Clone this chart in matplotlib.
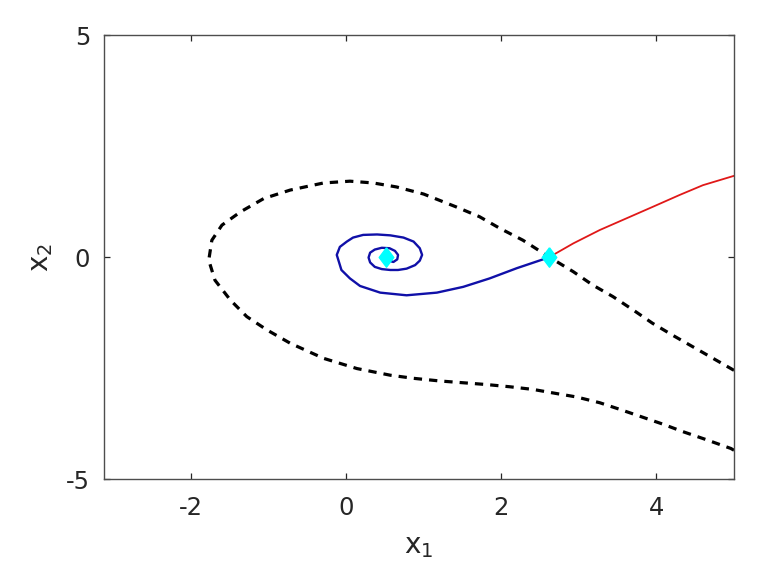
"""
Phase portrait: stable manifold of the saddle (dashed), its two unstable
branches (red / blue) and the equilibria (cyan diamonds).
"""

import matplotlib
matplotlib.use("Agg")
import matplotlib.pyplot as plt


# Stable manifold of the saddle (along the path)
stableX = [5.00, 4.73, 4.47, 4.21, 3.95, 3.70, 3.44, 3.18, 2.93, 2.62,
           2.28, 1.98, 1.72, 1.42, 1.00, 0.65, 0.35, 0.05, -0.29, -0.72,
           -1.06, -1.36, -1.60, -1.73, -1.77, -1.69, -1.49, -1.28, -1.02,
           -0.72, -0.29, 0.14, 0.57, 0.87, 1.21, 1.51, 1.81, 2.11, 2.41,
           2.67, 2.97, 3.27, 3.53, 3.78, 4.08, 4.34, 4.64, 4.96, 5.00]
stableY = [-2.55, -2.28, -2.02, -1.76, -1.49, -1.19, -0.89, -0.63, -0.33,
           0.00, 0.38, 0.65, 0.91, 1.13, 1.42, 1.58, 1.67, 1.71, 1.67, 1.51,
           1.32, 1.02, 0.72, 0.38, -0.07, -0.52, -0.97, -1.34, -1.64, -1.94,
           -2.28, -2.51, -2.66, -2.73, -2.79, -2.83, -2.87, -2.92, -2.98,
           -3.06, -3.15, -3.28, -3.43, -3.58, -3.76, -3.93, -4.11, -4.31,
           -4.35]

# Unstable branch going right
redX = [2.62, 2.93, 3.27, 3.61, 3.95, 4.30, 4.60, 4.98, 5.00]
redY = [0.00, 0.31, 0.61, 0.87, 1.13, 1.40, 1.62, 1.82, 1.83]

# Unstable branch spiralling into the focus
blueX = [2.62, 2.54, 2.20, 1.85, 1.51, 1.17, 0.78, 0.44, 0.18, 0.05,
         -0.06, -0.12, -0.08, 0.01, 0.09, 0.22, 0.40, 0.57, 0.74, 0.87,
         0.95, 0.98, 0.95, 0.89, 0.78, 0.67, 0.57, 0.46, 0.37, 0.31,
         0.29, 0.31, 0.37, 0.46, 0.56, 0.63, 0.67, 0.66, 0.61, 0.55,
         0.52]
blueY = [0.00, -0.05, -0.25, -0.48, -0.67, -0.80, -0.86, -0.80, -0.65,
         -0.48, -0.29, 0.05, 0.23, 0.35, 0.44, 0.50, 0.51, 0.49, 0.44,
         0.35, 0.20, 0.05, -0.08, -0.18, -0.26, -0.29, -0.29, -0.27,
         -0.22, -0.12, -0.01, 0.10, 0.17, 0.21, 0.20, 0.14, 0.05, -0.05,
         -0.11, -0.08, 0.00]

# Equilibria: focus and saddle
eqX = [0.52, 2.62]
eqY = [0.00, 0.00]

xTicks = [-2, 0, 2, 4]
yTicks = [-5, 0, 5]


def plotPortrait():
    """
    Draws the phase portrait and saves it as out.png.
    """
    plt.rcParams["axes.unicode_minus"] = False
    fig = plt.figure(figsize=(7.57, 5.85), dpi=100)
    ax = fig.add_axes([0.1374, 0.181, 0.8322, 0.759])

    # MATLAB-style diamond, a bit taller than wide
    diamond = [(0, 1), (0.75, 0), (0, -1), (-0.75, 0), (0, 1)]

    ax.plot(stableX, stableY, color="black", linewidth=2.3,
            linestyle=(0, (2.6, 2.2)))
    ax.plot(blueX, blueY, color="#1010a8", linewidth=1.7)
    ax.plot(redX, redY, color="#e01818", linewidth=1.3)
    ax.plot(eqX, eqY, linestyle="none", marker=diamond, markersize=14,
            color="cyan", markeredgecolor="cyan")

    _adjustPlotSettings(ax)
    fig.savefig("out.png", dpi=100)


def _adjustPlotSettings(ax):
    """
    MATLAB-like axes: boxed, inward ticks on all sides, grey frame.
    """
    gray = "#262626"
    ax.set_xlim(-3.12, 5)
    ax.set_ylim(-5, 5)
    ax.set_xticks(xTicks)
    ax.set_yticks(yTicks)
    ax.tick_params(direction="in", length=4.3, width=0.9, colors=gray,
                   labelsize=17.5, top=True, right=True)
    ax.tick_params(axis="x", pad=12)
    ax.tick_params(axis="y", pad=10)
    for spine in ax.spines.values():
        spine.set_color("#4d4d4d")
        spine.set_linewidth(1.0)
    ax.set_xlabel(r"$\mathregular{x_1}$", fontsize=20, color=gray,
                  labelpad=9)
    ax.set_ylabel(r"$\mathregular{x_2}$", fontsize=20, color=gray,
                  labelpad=8)


def main():
    plotPortrait()


if __name__ == "__main__":
    main()
